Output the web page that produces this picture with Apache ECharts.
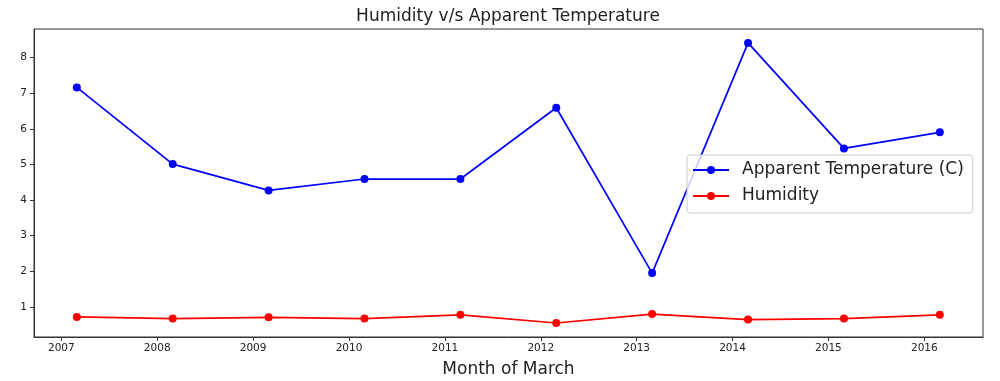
<!DOCTYPE html>
<html>
<head>
<meta charset="utf-8">
<script src="https://cdn.jsdelivr.net/npm/echarts@6/dist/echarts.min.js"></script>
<style>
    html, body { margin: 0; padding: 0; background: #fff; }
    #mainChart { width: 1000px; height: 381px; }
</style>
</head>
<body>
<div id="mainChart"></div>
<script>
// March of each year (first of the month, as decimal year)
const years = [2007, 2008, 2009, 2010, 2011, 2012, 2013, 2014, 2015, 2016];
const marchOffset = 59 / 365;
const apparentTemp = [7.16, 5.01, 4.27, 4.59, 4.59, 6.59, 1.95, 8.41, 5.45, 5.90];
const humidity = [0.72, 0.675, 0.71, 0.675, 0.78, 0.55, 0.80, 0.645, 0.675, 0.78];
const xTicks = [2007, 2008, 2009, 2010, 2011, 2012, 2013, 2014, 2015, 2016];
const yTicks = [1, 2, 3, 4, 5, 6, 7, 8];

const font = 'DejaVu Sans';
const textColor = '#222';

function toPairs(values) {
    const out = [];
    for (let i = 0; i < years.length; i++) {
        out.push([years[i] + marchOffset, values[i]]);
    }
    return out;
}

const myChart = echarts.init(document.getElementById('mainChart'));
const option = {
    animation: false,
    title: {
        text: 'Humidity v/s Apparent Temperature',
        left: 508,
        textAlign: 'center',
        top: 8,
        padding: 0,
        textStyle: { fontFamily: font, fontSize: 17, fontWeight: 'normal', color: textColor }
    },
    legend: {
        orient: 'vertical',
        left: 687,
        top: 155,
        padding: [6, 9, 8, 5],
        itemWidth: 36,
        itemHeight: 10,
        itemGap: 8,
        backgroundColor: 'rgba(255,255,255,0.8)',
        borderColor: '#ccc',
        borderWidth: 1,
        borderRadius: 3,
        textStyle: {
            fontFamily: font, fontSize: 17, color: textColor,
            lineHeight: 18, padding: [0, 0, 0, 8]
        },
        data: ['Apparent Temperature (C)', 'Humidity']
    },
    grid: {
        left: 34,
        right: 17,
        top: 29,
        bottom: 44,
        outerBoundsMode: 'none',
        show: true,
        borderColor: '#333',
        borderWidth: 1
    },
    xAxis: {
        type: 'value',
        min: 2006.715,
        max: 2016.612,
        name: 'Month of March',
        nameLocation: 'middle',
        nameGap: 24,
        nameTextStyle: { fontFamily: font, fontSize: 17, color: textColor },
        axisLine: { show: true, lineStyle: { color: '#333' } },
        axisTick: { show: true, length: 4, lineStyle: { color: '#333' }, customValues: xTicks },
        axisLabel: {
            fontFamily: font, fontSize: 10.5, color: textColor, margin: 6,
            customValues: xTicks,
            formatter: function (v) { return String(Math.round(v)); }
        },
        splitLine: { show: false }
    },
    yAxis: {
        type: 'value',
        min: 0.157,
        max: 8.8,
        axisLine: { show: true, lineStyle: { color: '#333' } },
        axisTick: { show: true, length: 4, lineStyle: { color: '#333' }, customValues: yTicks },
        axisLabel: {
            fontFamily: font, fontSize: 10.5, color: textColor, margin: 7,
            customValues: yTicks
        },
        splitLine: { show: false }
    },
    series: [
        {
            name: 'Apparent Temperature (C)',
            type: 'line',
            data: toPairs(apparentTemp),
            symbol: 'circle',
            symbolSize: 8,
            color: '#0000ff',
            lineStyle: { width: 1.7, color: '#0000ff' },
            itemStyle: { color: '#0000ff' }
        },
        {
            name: 'Humidity',
            type: 'line',
            data: toPairs(humidity),
            symbol: 'circle',
            symbolSize: 8,
            color: '#ff0000',
            lineStyle: { width: 1.7, color: '#ff0000' },
            itemStyle: { color: '#ff0000' }
        }
    ]
};
myChart.setOption(option);
</script>
</body>
</html>
